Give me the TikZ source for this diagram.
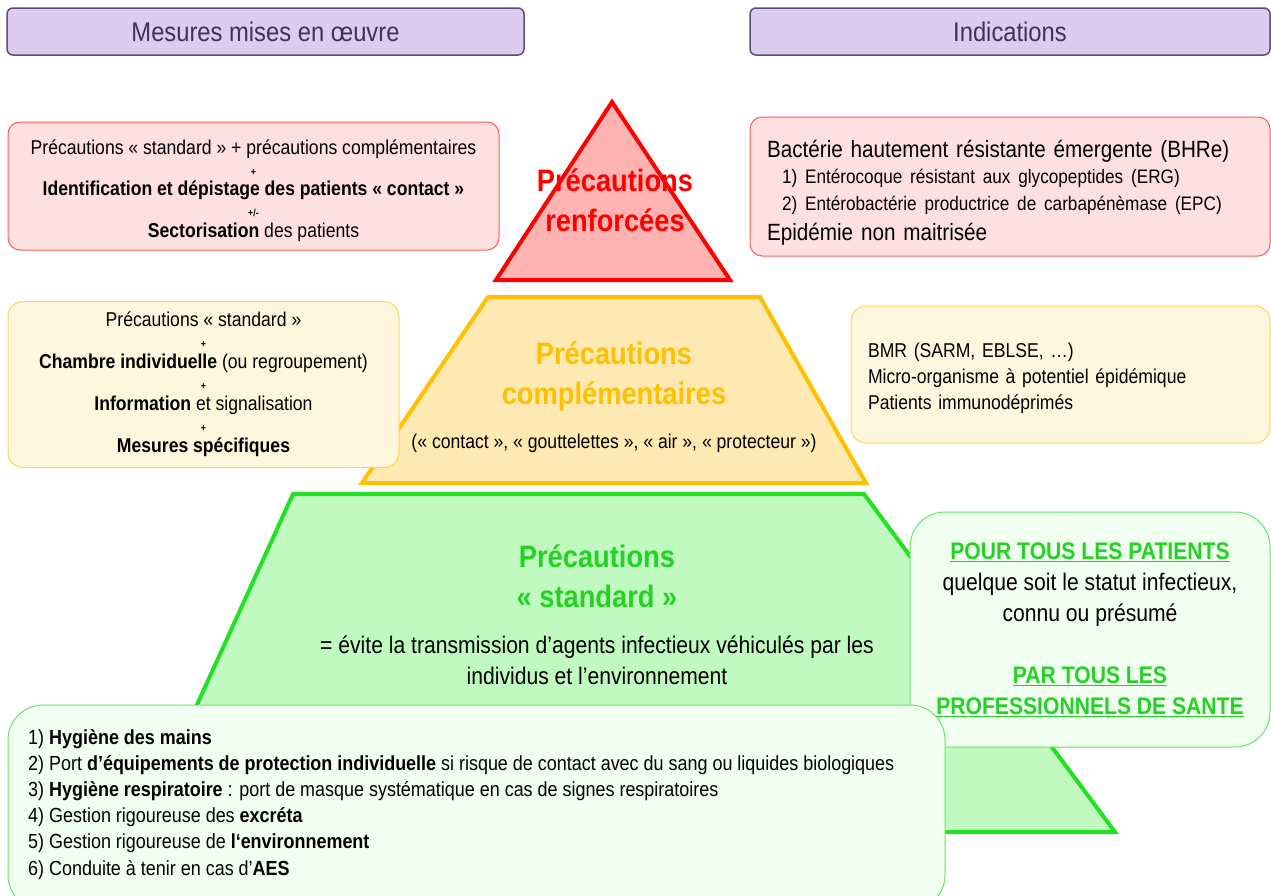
\documentclass[tikz,border=0pt]{standalone}
\usepackage{fontspec}
\setmainfont{Liberation Sans}[FakeStretch=0.88]
\usetikzlibrary{positioning}

\definecolor{color1}{RGB}{222,204,240}
\definecolor{color2}{RGB}{94,76,124}
\definecolor{color3}{RGB}{64,49,90}
\definecolor{color4}{RGB}{255,179,179}
\definecolor{color5}{RGB}{255,0,0}
\definecolor{color6}{RGB}{255,224,224}
\definecolor{color7}{RGB}{255,90,90}
\definecolor{color8}{RGB}{255,233,178}
\definecolor{color9}{RGB}{255,192,0}
\definecolor{color10}{RGB}{255,246,222}
\definecolor{color11}{RGB}{255,210,90}
\definecolor{color12}{RGB}{192,250,192}
\definecolor{color13}{RGB}{34,224,34}
\definecolor{color14}{RGB}{240,255,240}
\definecolor{color15}{RGB}{100,230,100}
\definecolor{color16}{RGB}{36,210,36}

\newcommand{\tinymark}[1]{{\fontsize{10}{10}\selectfont\textbf{#1}}}

\tikzset{
	headbox/.style={fill=color1, draw=color2, line width=1.5pt, rounded corners=6pt, text=color3, font=\fontsize{27}{30}\selectfont},
	redbox/.style={fill=color6, draw=color7, line width=1pt, rounded corners=12pt},
	yellowbox/.style={fill=color10, draw=color11, line width=1pt, rounded corners=15pt},
	greenbox/.style={fill=color14, draw=color15, line width=1pt, rounded corners=35pt},
	tiertitle/.style={align=center, font=\bfseries\fontsize{31}{40}\selectfont},
	tier/.style={line width=4pt}
}

\begin{document}
\begin{tikzpicture}[x=1pt, y=-1pt]
	\useasboundingbox (0,0) rectangle (1271,895);
	% column headers
	\node[headbox, minimum width=517pt, minimum height=47pt] (h1) at (265.5,31.5) {Mesures mises en œuvre};
	\node[headbox, minimum width=520pt, minimum height=47pt] (h2) at (1010,31.5) {Indications};
	% pyramid
	\draw[tier, fill=color4, draw=color5] (612,102) -- (730,280) -- (496,280) -- cycle;
	\draw[tier, fill=color8, draw=color9] (488,297) -- (760,297) -- (866,483) -- (362,483) -- cycle;
	\draw[tier, fill=color12, draw=color13] (293,494) -- (864,494) -- (1115,832) -- (139,832) -- cycle;
	\node[tiertitle, text=color5] (t1) at (615,200) {Précautions\\renforcées};
	\node[tiertitle, text=color9] (t2) at (614,376) {Précautions\\complémentaires};
	\node[font=\fontsize{20}{24}\selectfont] (t2sub) at (614,443) {(«~contact~», «~gouttelettes~», «~air~», «~protecteur~»)};
	\node[tiertitle, text=color16] (t3) at (597,576) {Précautions\\«~standard~»};
	\node[align=center, font=\fontsize{24}{31}\selectfont] (t3sub) at (597,660) {= évite la transmission d’agents infectieux véhiculés par les\\individus et l’environnement};
	% red level
	\node[redbox, minimum width=491pt, minimum height=128pt, align=center, font=\fontsize{20}{20.75}\selectfont] (rl) at (253.5,186) {\rule{0pt}{24pt}Précautions «~standard~» + précautions complémentaires\\\tinymark{+}\\\textbf{Identification et dépistage des patients «~contact~»}\\\tinymark{+/-}\\\textbf{Sectorisation} des patients};
	\node[redbox, minimum width=520pt, minimum height=139pt, align=left, text width=486pt, font=\fontsize{23.5}{26.5}\selectfont] (rr) at (1010,186.5) {\rule{0pt}{29pt}Bactérie hautement résistante émergente (BHRe)\\
		\hspace*{15pt}{\fontsize{19.5}{26.5}\selectfont 1) Entérocoque résistant aux glycopeptides (ERG)}\\
		\hspace*{15pt}{\fontsize{19.5}{26.5}\selectfont 2) Entérobactérie productrice de carbapénèmase (EPC)}\\[3.5pt]
		Epidémie non maitrisée};
	% yellow level
	\node[yellowbox, minimum width=391pt, minimum height=166pt, align=center, font=\fontsize{20}{21}\selectfont] (yl) at (203.5,384.5) {Précautions «~standard~»\\\tinymark{+}\\\textbf{Chambre individuelle} (ou regroupement)\\\tinymark{+}\\\textbf{Information} et signalisation\\\tinymark{+}\\\textbf{Mesures spécifiques}};
	\node[yellowbox, minimum width=419pt, minimum height=137pt, align=left, text width=385pt, font=\fontsize{20}{26}\selectfont] (yr) at (1060.5,374.5) {\rule{0pt}{22pt}BMR (SARM, EBLSE, …)\\Micro-organisme à potentiel épidémique\\Patients immunodéprimés};
	% green level
	\node[greenbox, minimum width=360pt, minimum height=235pt, align=center, font=\fontsize{24}{31}\selectfont] (gr) at (1090,629.5) {\textcolor{color16}{\textbf{\underline{POUR TOUS LES PATIENTS}}}\\quelque soit le statut infectieux,\\connu ou présumé\\[31pt]\textcolor{color16}{\textbf{\underline{PAR TOUS LES}}}\\\textcolor{color16}{\textbf{\underline{PROFESSIONNELS DE SANTE}}}};
	\node[greenbox, minimum width=937pt, minimum height=205pt] (gb) at (476.5,807.5) {};
	\node[anchor=north west, inner sep=0pt, align=left, font=\fontsize{20.4}{26.2}\selectfont] (gbtext) at (28,729) {1) \textbf{Hygiène des mains}\\
		2) Port \textbf{d’équipements de protection individuelle} si risque de contact avec du sang ou liquides biologiques\\
		3) \textbf{Hygiène respiratoire} : port de masque systématique en cas de signes respiratoires\\
		4) Gestion rigoureuse des \textbf{excréta}\\
		5) Gestion rigoureuse de \textbf{l‘environnement}\\
		6) Conduite à tenir en cas d’\textbf{AES}};
\end{tikzpicture}
\end{document}
